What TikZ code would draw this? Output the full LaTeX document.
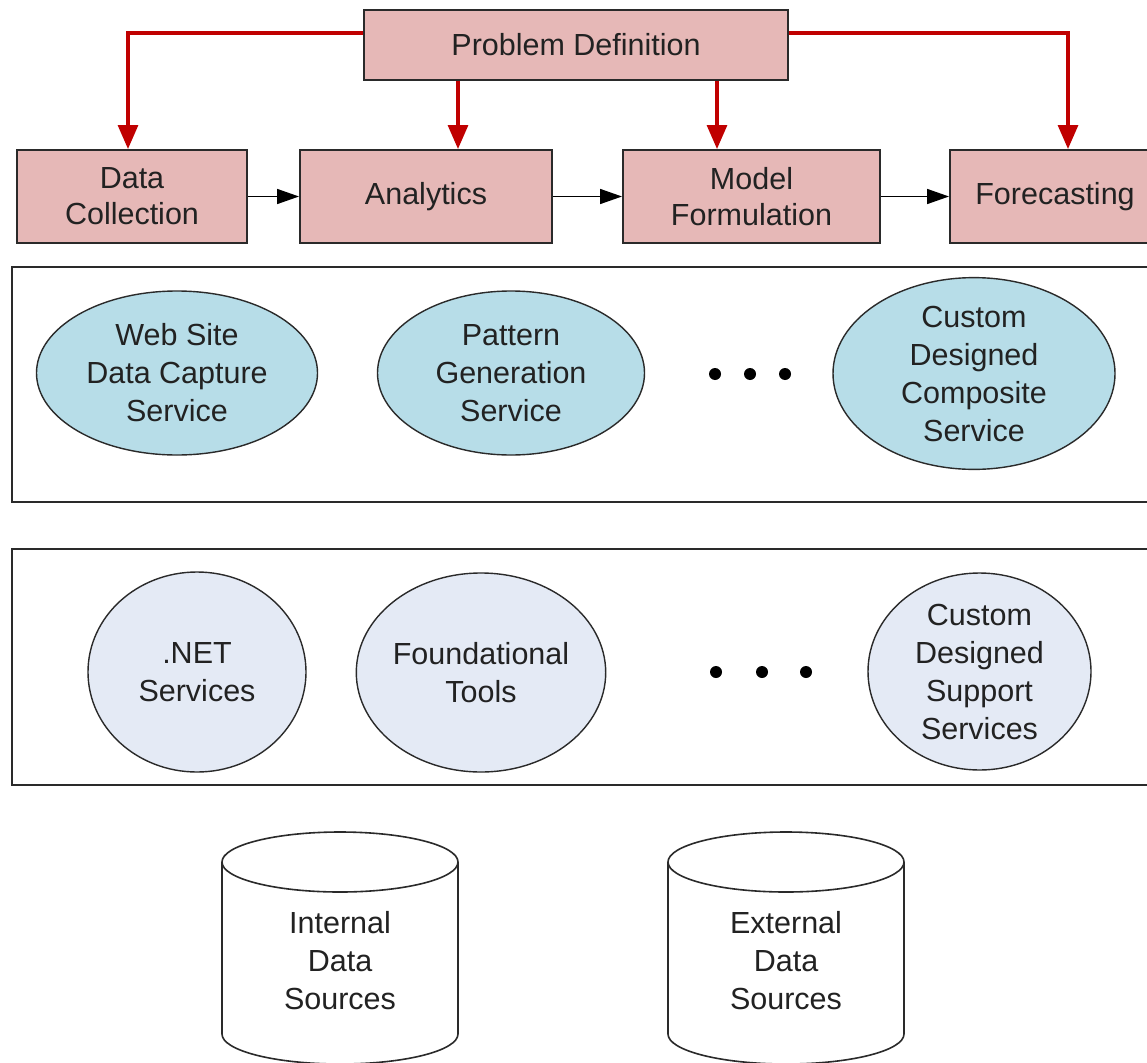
\documentclass[tikz,border=0pt]{standalone}
\usepackage{fontspec}
\setmainfont{Liberation Sans}
\usetikzlibrary{arrows.meta,shapes.geometric}
\definecolor{boxpink}{HTML}{E6B8B7}
\definecolor{svcteal}{HTML}{B7DDE8}
\definecolor{svclight}{HTML}{E4EAF5}
\definecolor{redline}{HTML}{C00000}
\definecolor{edge}{HTML}{2A2A2A}
\definecolor{txt}{HTML}{222222}
\tikzset{
  procbox/.style={draw=edge, line width=2pt, fill=boxpink, minimum height=93pt, inner sep=0pt, align=center, text=txt, font=\fontsize{30.5}{36}\selectfont},
  layerbox/.style={draw=edge, line width=2pt, fill=white, inner sep=0pt},
  svc/.style={ellipse, draw=edge, line width=1.4pt, inner sep=0pt, align=center, text=txt, font=\fontsize{30.5}{38}\selectfont},
  dotmark/.style={circle, fill=black, inner sep=0pt, minimum size=12pt},
  redarrow/.style={draw=redline, line width=3.2pt, -{Triangle[length=24pt,width=20pt]}},
  blkarrow/.style={draw=black, line width=1.6pt, -{Triangle[length=22pt,width=15pt]}},
  dbtext/.style={align=center, text=txt, font=\fontsize{30.5}{38}\selectfont},
  cyl/.style={draw=edge, line width=1.6pt, fill=white}
}
\begin{document}
\begin{tikzpicture}[x=1pt,y=-1pt]
\clip (0,0) rectangle (1147,1062);
\fill[white] (0,0) rectangle (1147,1062);

% process row
\node[procbox, minimum width=424pt, minimum height=70pt] (pd) at (576,45) {Problem Definition};
\node[procbox, minimum width=230pt] (dc) at (132,196.5) {Data\\Collection};
\node[procbox, minimum width=252pt] (an) at (426,196.5) {Analytics};
\node[procbox, minimum width=257pt] (mf) at (751.5,196.5) {Model\\Formulation};
\node[procbox, minimum width=210pt] (fc) at (1055,196.5) {Forecasting};

\draw[redarrow] ([yshift=12pt]pd.west) -| ([xshift=-4pt]dc.north);
\draw[redarrow] ([yshift=12pt]pd.east) -| ([xshift=13pt]fc.north);
\draw[redarrow] ([xshift=-118pt]pd.south) -- ([xshift=-118pt]pd.south |- an.north);
\draw[redarrow] ([xshift=141pt]pd.south) -- ([xshift=141pt]pd.south |- mf.north);

\draw[blkarrow] (dc) -- (an);
\draw[blkarrow] (an) -- (mf);
\draw[blkarrow] (mf) -- (fc);

% service layer
\node[layerbox, minimum width=1148pt, minimum height=235pt] (l1) at (586,384.5) {};
\node[svc, fill=svcteal, minimum width=281pt, minimum height=164pt] (e1) at (177,373) {Web Site\\Data Capture\\Service};
\node[svc, fill=svcteal, minimum width=267pt, minimum height=164pt] (e2) at (511,373) {Pattern\\Generation\\Service};
\node[svc, fill=svcteal, minimum width=282pt, minimum height=163pt] (e3) at (974,373.5) {Custom\\Designed\\Composite\\Service};
\node[dotmark] (a1) at (715,374) {};
\node[dotmark] (a2) at (750,374) {};
\node[dotmark] (a3) at (785,374) {};

% support layer
\node[layerbox, minimum width=1148pt, minimum height=236pt] (l2) at (586,667) {};
\node[svc, fill=svclight, minimum width=218pt, minimum height=200pt] (f1) at (197,672) {.NET\\Services};
\node[svc, fill=svclight, minimum width=224pt, minimum height=199pt] (f2) at (481,672.5) {Foundational\\Tools};
\node[svc, fill=svclight, minimum width=223pt, minimum height=197pt] (f3) at (979.5,671.5) {Custom\\Designed\\Support\\Services};
\node[dotmark] (b1) at (716,672) {};
\node[dotmark] (b2) at (762,672) {};
\node[dotmark] (b3) at (806,672) {};

% data sources
\draw[cyl] (222,862) -- (222,1034) arc[start angle=180, end angle=0, x radius=118, y radius=30] -- (458,862);
\draw[cyl] (340,862) ellipse[x radius=118, y radius=30];
\node[dbtext] (ids) at (340,961) {Internal\\Data\\Sources};

\draw[cyl] (668,862) -- (668,1034) arc[start angle=180, end angle=0, x radius=118, y radius=30] -- (904,862);
\draw[cyl] (786,862) ellipse[x radius=118, y radius=30];
\node[dbtext] (eds) at (786,961) {External\\Data\\Sources};
\end{tikzpicture}
\end{document}
